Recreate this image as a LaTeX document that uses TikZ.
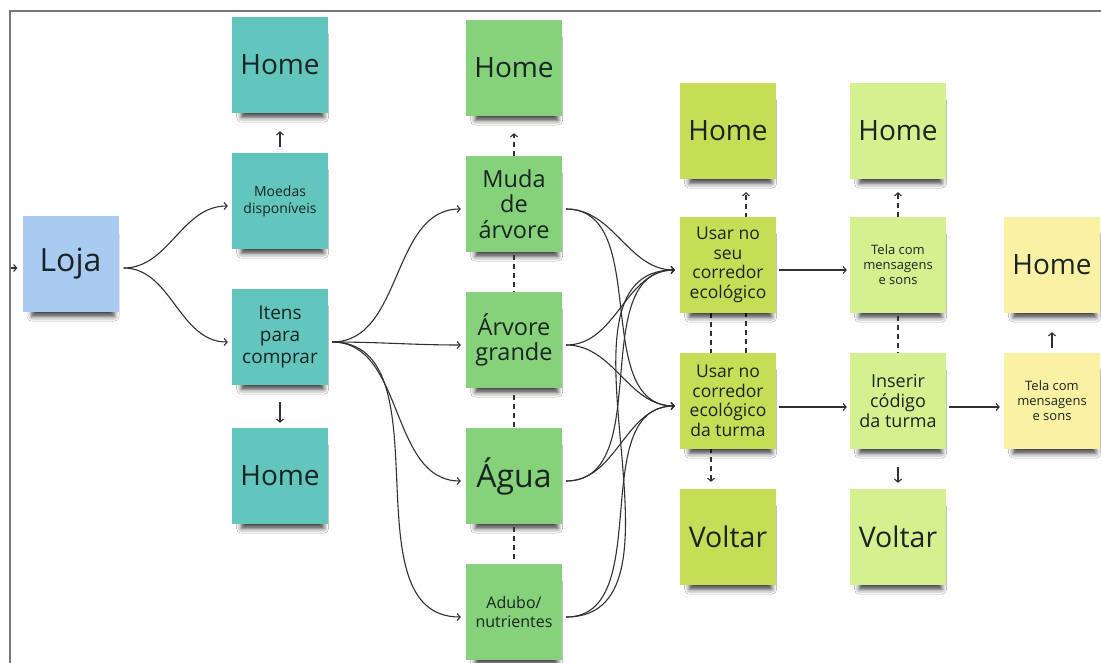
\documentclass[tikz,border=0pt]{standalone}
\usepackage{fontspec}
\setmainfont{Open Sans}
\usetikzlibrary{arrows.meta,shadows.blur,backgrounds}

\definecolor{lojaBlue}{HTML}{A9CBF2}
\definecolor{noteTeal}{HTML}{62C6BC}
\definecolor{noteGreen}{HTML}{86D27A}
\definecolor{noteLime}{HTML}{C5DE55}
\definecolor{notePale}{HTML}{D5F08F}
\definecolor{noteYellow}{HTML}{FBF1A3}
\definecolor{ink}{HTML}{1A2424}
\definecolor{wire}{HTML}{303030}
\definecolor{frame}{HTML}{777777}

\tikzset{
  note/.style={minimum width=96pt, minimum height=96pt, inner sep=0pt,
    align=center, text=ink,
    blur shadow={shadow xshift=3pt, shadow yshift=-13pt, shadow scale=0.86,
      shadow opacity=75, shadow blur radius=5.5pt}},
  huge/.style={font=\fontsize{32}{36}\selectfont},
  homefont/.style={font=\fontsize{28}{32}\selectfont},
  voltarfont/.style={font=\fontsize{28.5}{32}\selectfont},
  treefont/.style={font=\fontsize{23.5}{25.5}\selectfont},
  itemfont/.style={font=\fontsize{19}{22}\selectfont},
  usefont/.style={font=\fontsize{17.5}{19.5}\selectfont},
  codefont/.style={font=\fontsize{18}{20}\selectfont},
  adubofont/.style={font=\fontsize{16}{19}\selectfont},
  smallfont/.style={font=\fontsize{14}{17}\selectfont},
  tinyfont/.style={font=\fontsize{13}{15}\selectfont},
  conn/.style={draw=wire, line width=1.1pt, -{Straight Barb[length=3pt,width=7pt]}},
  dconn/.style={conn, dash pattern=on 5pt off 4pt},
  dlink/.style={draw=wire, line width=1.1pt, dash pattern=on 5pt off 4pt},
}

\begin{document}
\begin{tikzpicture}[x=1pt, y=-1pt]
\useasboundingbox (0,0) rectangle (1101,663);

% store entry
\node[note, fill=lojaBlue, huge] (loja) at (70.5,264) {Loja};
\coordinate (entry) at (11,268);

% coins and items
\node[note, fill=noteTeal, homefont] (homeA) at (280,65) {Home};
\node[note, fill=noteTeal, smallfont] (moedas) at (280,201) {Moedas\\disponíveis};
\node[note, fill=noteTeal, itemfont] (itens) at (280,337) {Itens\\para\\comprar};
\node[note, fill=noteTeal, homefont] (homeB) at (280,476) {Home};

% catalogue
\node[note, fill=noteGreen, homefont] (homeC) at (514,68) {Home};
\node[note, fill=noteGreen, treefont] (muda) at (514,204) {Muda\\de\\árvore};
\node[note, fill=noteGreen, treefont] (arvore) at (514,340) {Árvore\\grande};
\node[note, fill=noteGreen, huge] (agua) at (514,476) {Água};
\node[note, fill=noteGreen, adubofont] (adubo) at (514,612) {Adubo/\\nutrientes};

% where to use it
\node[note, fill=noteLime, homefont] (homeD) at (728,131) {Home};
\node[note, fill=noteLime, usefont] (seu) at (728,265) {Usar no\\seu\\corredor\\ecológico};
\node[note, fill=noteLime, usefont] (turma) at (728,401) {Usar no\\corredor\\ecológico\\da turma};
\node[note, fill=noteLime, voltarfont] (voltarA) at (728,537) {Voltar};

% feedback and class code
\node[note, fill=notePale, homefont] (homeE) at (898,131) {Home};
\node[note, fill=notePale, tinyfont] (telaA) at (898,265) {Tela com\\mensagens\\e sons};
\node[note, fill=notePale, codefont] (codigo) at (898,401) {Inserir\\código\\da turma};
\node[note, fill=notePale, voltarfont] (voltarB) at (898,537) {Voltar};

% final feedback
\node[note, fill=noteYellow, homefont] (homeF) at (1052,265) {Home};
\node[note, fill=noteYellow, tinyfont] (telaB) at (1052,401) {Tela com\\mensagens\\e sons};

% paper, frame and the dashed routes that run behind the corridor notes
\begin{scope}[on background layer]
  \fill[white] (0,0) rectangle (1101,663);
  \draw[frame, line width=2.5pt] (10,663) -- (10,11) -- (1101,11);
  \draw[dconn, shorten >=13pt] ([xshift=18pt]turma.north) -- ([xshift=18pt]homeD.south);
  \draw[dconn, shorten >=7pt] ([xshift=-17pt]seu.south) -- ([xshift=-17pt]voltarA.north);
\end{scope}

% entry and first split
\draw[conn, shorten >=5pt] (entry) -- ([yshift=-4pt]loja.west);
\draw[conn, shorten <=5pt, shorten >=4pt] ([yshift=-4pt]loja.east) to[out=0,in=180] ([yshift=-5pt]moedas.west);
\draw[conn, shorten <=5pt, shorten >=4pt] ([yshift=-4pt]loja.east) to[out=0,in=180] ([yshift=-5pt]itens.west);
\draw[conn, shorten <=6pt, shorten >=18pt] (moedas.north) -- (homeA.south);
\draw[conn, shorten <=17pt, shorten >=5pt] (itens.south) -- (homeB.north);

% items to the catalogue
\foreach \t in {muda,arvore,agua,adubo}
  \draw[conn, shorten <=4pt, shorten >=5pt] ([yshift=-5pt]itens.east) to[out=0,in=180] ([yshift=-5pt]\t.west);

% catalogue column links
\draw[dconn, shorten >=17pt] (muda.north) -- (homeC.south);
\draw[dlink, shorten <=3pt] (muda.south) -- (arvore.north);
\draw[dlink, shorten <=7pt] (arvore.south) -- (agua.north);
\draw[dlink, shorten <=3pt, shorten >=4pt] (agua.south) -- (adubo.north);

% catalogue to both corridors
\foreach \s in {muda,arvore,agua,adubo}
  \foreach \t in {seu,turma}
    \draw[conn, shorten <=4pt, shorten >=5pt] ([yshift=-5pt]\s.east) to[out=0,in=180] ([yshift=-5pt]\t.west);

% corridor paths
\draw[conn, shorten <=3pt, shorten >=3pt] ([yshift=-5pt]seu.east) -- ([yshift=-5pt]telaA.west);
\draw[conn, shorten <=3pt, shorten >=3pt] ([yshift=-6pt]turma.east) -- ([yshift=-6pt]codigo.west);
\draw[conn, shorten <=3pt, shorten >=4pt] ([yshift=-6pt]codigo.east) -- ([yshift=-6pt]telaB.west);
\draw[dconn, shorten >=13pt] (telaA.north) -- (homeE.south);
\draw[dlink, shorten <=3pt] (telaA.south) -- (codigo.north);
\draw[conn, shorten <=18pt, shorten >=6pt] (codigo.south) -- (voltarB.north);
\draw[conn, shorten <=5pt, shorten >=19pt] (telaB.north) -- (homeF.south);
\end{tikzpicture}
\end{document}
